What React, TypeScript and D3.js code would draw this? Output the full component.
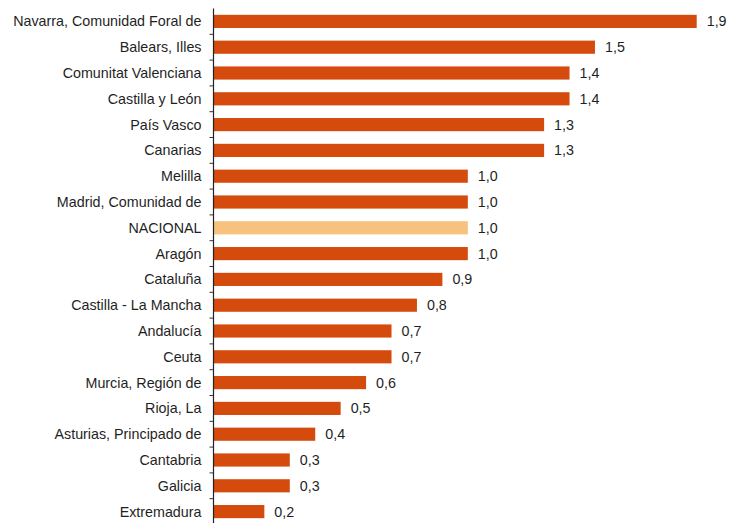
import React from "react";
import { scaleLinear, scaleBand, format } from "d3";

const regions = [
  "Navarra, Comunidad Foral de",
  "Balears, Illes",
  "Comunitat Valenciana",
  "Castilla y León",
  "País Vasco",
  "Canarias",
  "Melilla",
  "Madrid, Comunidad de",
  "NACIONAL",
  "Aragón",
  "Cataluña",
  "Castilla - La Mancha",
  "Andalucía",
  "Ceuta",
  "Murcia, Región de",
  "Rioja, La",
  "Asturias, Principado de",
  "Cantabria",
  "Galicia",
  "Extremadura",
];

const values = [1.9, 1.5, 1.4, 1.4, 1.3, 1.3, 1.0, 1.0, 1.0, 1.0, 0.9, 0.8, 0.7, 0.7, 0.6, 0.5, 0.4, 0.3, 0.3, 0.2];

const highlight = "NACIONAL";

export default function App() {
  const width = 729,
    height = 523,
    axisX = 213.5,
    top = 8.5,
    rowStep = 25.8,
    x = scaleLinear().domain([0, 1.9]).range([axisX, 696.7]),
    y = scaleBand()
      .domain(regions)
      .range([top, top + rowStep * regions.length])
      .paddingInner(0.49)
      .paddingOuter(0.245),
    fmt = (v: number) => format(".1f")(v).replace(".", ",");

  const step = y.step();

  return (
    <svg
      width={width}
      height={height}
      style={{ position: "absolute", left: 0, top: 0, background: "#fff" }}
      fontFamily="Liberation Sans, Arial, sans-serif"
    >
      {regions.map((r, i) => {
        const v = values[i];
        const yc = y(r)! + y.bandwidth() / 2;
        return (
          <g key={r}>
            <rect
              x={x(0)}
              y={y(r)}
              width={x(v) - x(0)}
              height={y.bandwidth()}
              fill={r === highlight ? "#F7C17E" : "#D54B0E"}
            />
            <text
              x={axisX - 12}
              y={yc}
              dy=".35em"
              textAnchor="end"
              fontSize={14.3}
              fill="#1f1f1f"
            >
              {r}
            </text>
            <text x={x(v) + 10} y={yc} dy=".35em" fontSize={14.3} fill="#1f1f1f">
              {fmt(v)}
            </text>
          </g>
        );
      })}
      {regions.slice(1).map((r, i) => (
        <line
          key={"t" + r}
          x1={axisX - 4}
          x2={axisX}
          y1={top + step * (i + 1)}
          y2={top + step * (i + 1)}
          stroke="#333"
          strokeWidth={1}
        />
      ))}
      <line x1={axisX} x2={axisX} y1={top} y2={height} stroke="#222" strokeWidth={1.2} />
    </svg>
  );
}
